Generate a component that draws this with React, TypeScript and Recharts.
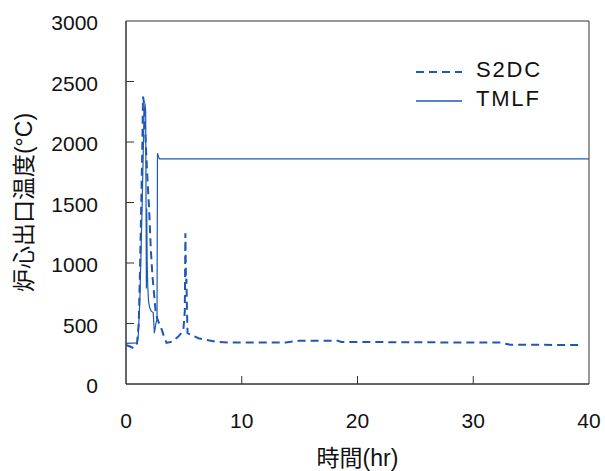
import { LineChart, Line, XAxis, YAxis, ReferenceArea, Legend } from 'recharts';

const FONT = '"Liberation Sans", Arial, "Noto Sans CJK JP", sans-serif';
const BLUE = '#1f58b4';
const AXIS = '#333333';

const xTicks = [0, 10, 20, 30, 40];
const yTicks = [0, 500, 1000, 1500, 2000, 2500, 3000];

// S2DC (dashed)
const s2dcTime = [
    0, 0.35, 0.65, 0.95, 1.1, 1.2, 1.3, 1.4, 1.47, 1.55, 1.7, 1.85, 2.0, 2.15, 2.29, 2.45, 2.57, 2.7, 2.85,
    3.05, 3.29, 3.5, 4.0, 4.5, 4.95, 5.08, 5.13, 5.18, 5.22, 5.27, 5.32, 6.25, 7.7, 9.1, 13.8, 15.0, 18.3,
    18.6, 26.5, 27.9, 32.3, 33.2, 39.5,
];
const s2dcTemp = [
    322, 310, 295, 335, 500, 900, 1400, 1900, 2375, 2330, 2000, 1700, 1440, 1100, 887, 720, 586, 540, 504,
    460, 391, 340, 350, 390, 440, 600, 1245, 850, 870, 600, 420, 378, 350, 342, 343, 358, 358,
    347, 345, 342, 342, 325, 322,
];

// TMLF (solid)
const tmlfTime = [
    0, 0.95, 1.05, 1.2, 1.4, 1.55, 1.64, 1.7, 1.76, 1.79, 1.83, 1.88, 1.95, 2.05, 2.2, 2.35, 2.45, 2.6, 2.68,
    2.72, 2.8, 2.9, 40,
];
const tmlfTemp = [
    336, 340, 380, 700, 1500, 2200, 2320, 2250, 790, 1450, 1000, 800, 680, 630, 600, 590, 420, 510, 530,
    1907, 1880, 1860, 1860,
];

const s2dcData = s2dcTime.map((x, i) => ({ x, y: s2dcTemp[i] }));
const tmlfData = tmlfTime.map((x, i) => ({ x, y: tmlfTemp[i] }));

const X_MARGIN = 29;
const Y_MARGIN = 28;
const TICK_LEN = 8;

function XTick({ x, y, payload }: any) {
    const v = payload.value;
    const axisY = y - X_MARGIN;
    return (
        <g>
            {v > 0 && v < 40 && <line x1={x} x2={x} y1={axisY} y2={axisY - TICK_LEN} stroke={AXIS} />}
            <text x={x} y={y} dy="0.71em" textAnchor="middle" fontSize={21} fill="#111" fontFamily={FONT}>
                {v}
            </text>
        </g>
    );
}

function YTick({ x, y, payload }: any) {
    const v = payload.value;
    const axisX = x + Y_MARGIN;
    return (
        <g>
            {v > 0 && v < 3000 && <line x1={axisX} x2={axisX + TICK_LEN} y1={y} y2={y} stroke={AXIS} />}
            <text x={x} y={y + 2} dy="0.355em" textAnchor="end" fontSize={21} fill="#111" fontFamily={FONT}>
                {v}
            </text>
        </g>
    );
}

function renderLegend(props: any) {
    const items = props.payload || [];
    return (
        <svg width={170} height={56}>
            {items.map((it: any, i: number) => {
                const cy = 17 + i * 29;
                return (
                    <g key={it.value}>
                        <line
                            x1={6}
                            x2={52}
                            y1={cy}
                            y2={cy}
                            stroke={BLUE}
                            strokeWidth={i === 0 ? 2 : 1.3}
                            strokeDasharray={it.payload?.strokeDasharray}
                        />
                        <text
                            x={66}
                            y={cy - 3}
                            dominantBaseline="central"
                            fontSize={22}
                            letterSpacing={1.8}
                            fill="#111"
                            fontFamily={FONT}
                        >
                            {it.value}
                        </text>
                    </g>
                );
            })}
        </svg>
    );
}

export default function App() {
    return (
        <div style={{ position: 'absolute', left: 0, top: 0, background: '#fff' }}>
            <LineChart width={605} height={471} margin={{ top: 21, right: 16, bottom: 0, left: 0 }}>
                <XAxis
                    type="number"
                    dataKey="x"
                    domain={[0, 40]}
                    ticks={xTicks}
                    height={87}
                    tickSize={0}
                    tickMargin={X_MARGIN}
                    tick={<XTick />}
                    stroke={AXIS}
                    label={{ value: '時間(hr)', position: 'insideBottom', offset: 5, fontSize: 23, fill: '#111', fontFamily: FONT }}
                />
                <YAxis
                    type="number"
                    domain={[0, 3000]}
                    ticks={yTicks}
                    width={126}
                    tickSize={0}
                    tickMargin={Y_MARGIN}
                    tick={<YTick />}
                    stroke={AXIS}
                    label={{
                        value: '炉心出口温度(°C)',
                        angle: -90,
                        position: 'insideLeft',
                        offset: 24,
                        fontSize: 23,
                        fill: '#111',
                        fontFamily: FONT,
                        style: { textAnchor: 'middle' },
                    }}
                />
                <ReferenceArea x1={0} x2={40} y1={0} y2={3000} fill="none" stroke={AXIS} strokeWidth={1} />
                <Line
                    data={s2dcData}
                    dataKey="y"
                    name="S2DC"
                    type="linear"
                    stroke={BLUE}
                    strokeWidth={2}
                    strokeDasharray="8 5"
                    dot={false}
                    isAnimationActive={false}
                />
                <Line
                    data={tmlfData}
                    dataKey="y"
                    name="TMLF"
                    type="linear"
                    stroke={BLUE}
                    strokeWidth={1.2}
                    dot={false}
                    isAnimationActive={false}
                />
                <Legend
                    layout="vertical"
                    align="center"
                    verticalAlign="middle"
                    wrapperStyle={{ top: 55, left: 410, width: 170 }}
                    content={renderLegend}
                />
            </LineChart>
        </div>
    );
}
